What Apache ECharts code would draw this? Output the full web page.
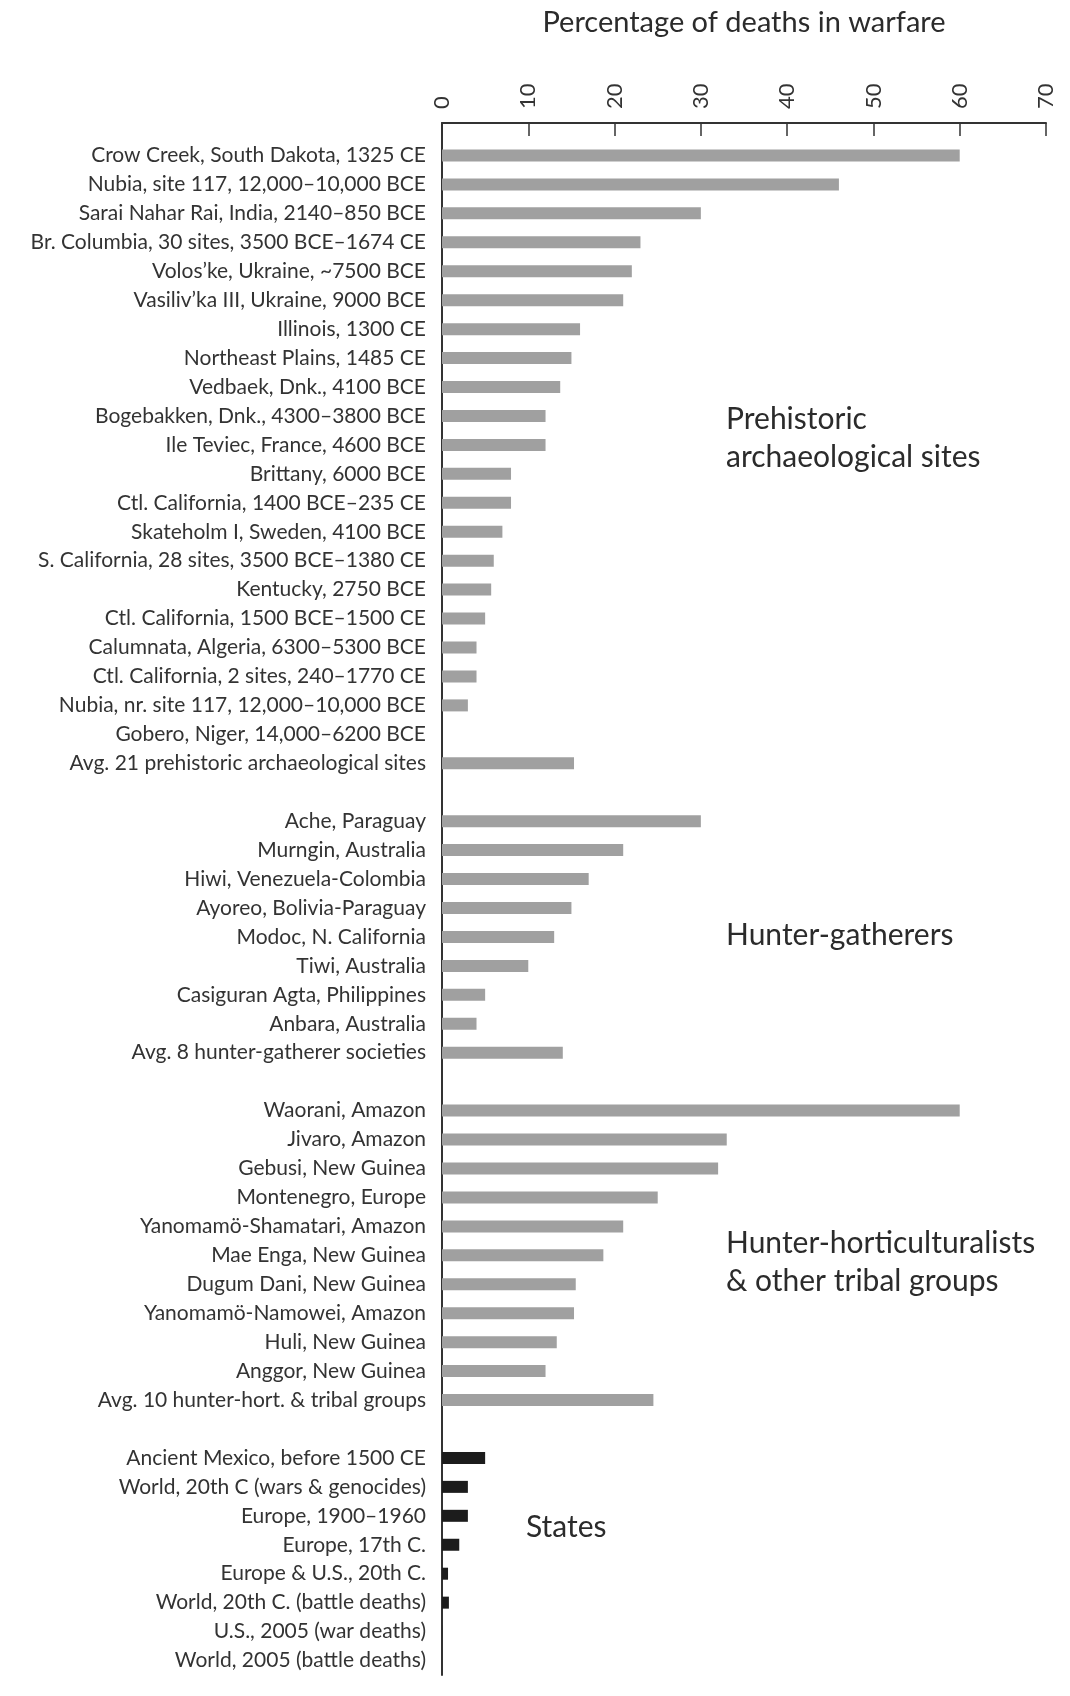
<!DOCTYPE html>
<html>
<head>
<meta charset="utf-8">
<title>Percentage of deaths in warfare</title>
<script src="https://cdn.jsdelivr.net/npm/echarts@6/dist/echarts.min.js"></script>
<style>
  html, body { margin: 0; padding: 0; background: #fff; }
  #main { width: 1070px; height: 1696px; }
</style>
</head>
<body>
<div id="main"></div>
<script>
// row labels, top to bottom ('' = gap between groups)
var prehistoric = [
  'Crow Creek, South Dakota, 1325 CE',
  'Nubia, site 117, 12,000–10,000 BCE',
  'Sarai Nahar Rai, India, 2140–850 BCE',
  'Br. Columbia, 30 sites, 3500 BCE–1674 CE',
  'Volos\u2019ke, Ukraine, ~7500 BCE',
  'Vasiliv\u2019ka III, Ukraine, 9000 BCE',
  'Illinois, 1300 CE',
  'Northeast Plains, 1485 CE',
  'Vedbaek, Dnk., 4100 BCE',
  'Bogebakken, Dnk., 4300–3800 BCE',
  'Ile Teviec, France, 4600 BCE',
  'Brittany, 6000 BCE',
  'Ctl. California, 1400 BCE–235 CE',
  'Skateholm I, Sweden, 4100 BCE',
  'S. California, 28 sites, 3500 BCE–1380 CE',
  'Kentucky, 2750 BCE',
  'Ctl. California, 1500 BCE–1500 CE',
  'Calumnata, Algeria, 6300–5300 BCE',
  'Ctl. California, 2 sites, 240–1770 CE',
  'Nubia, nr. site 117, 12,000–10,000 BCE',
  'Gobero, Niger, 14,000–6200 BCE',
  'Avg. 21 prehistoric archaeological sites'
];
var prehistoricVals = [60, 46, 30, 23, 22, 21, 16, 15, 13.7, 12, 12, 8, 8, 7, 6, 5.7, 5, 4, 4, 3, 0, 15.3];

var hunters = [
  'Ache, Paraguay',
  'Murngin, Australia',
  'Hiwi, Venezuela-Colombia',
  'Ayoreo, Bolivia-Paraguay',
  'Modoc, N. California',
  'Tiwi, Australia',
  'Casiguran Agta, Philippines',
  'Anbara, Australia',
  'Avg. 8 hunter-gatherer societies'
];
var huntersVals = [30, 21, 17, 15, 13, 10, 5, 4, 14];

var tribal = [
  'Waorani, Amazon',
  'Jivaro, Amazon',
  'Gebusi, New Guinea',
  'Montenegro, Europe',
  'Yanomamö-Shamatari, Amazon',
  'Mae Enga, New Guinea',
  'Dugum Dani, New Guinea',
  'Yanomamö-Namowei, Amazon',
  'Huli, New Guinea',
  'Anggor, New Guinea',
  'Avg. 10 hunter-hort. & tribal groups'
];
var tribalVals = [60, 33, 32, 25, 21, 18.7, 15.5, 15.3, 13.3, 12, 24.5];

var states = [
  'Ancient Mexico, before 1500 CE',
  'World, 20th C (wars & genocides)',
  'Europe, 1900–1960',
  'Europe, 17th C.',
  'Europe & U.S., 20th C.',
  'World, 20th C. (battle deaths)',
  'U.S., 2005 (war deaths)',
  'World, 2005 (battle deaths)'
];
var statesVals = [5, 3, 3, 2, 0.7, 0.8, 0.008, 0.0003];

var FONT = 'Lato';
var GRAY = '#a0a0a0';
var DARK = '#1c1c1c';
var INK = '#333';

var categories = [];
var values = [];
function addGroup(names, vals, color, gap) {
  for (var i = 0; i < names.length; i++) {
    categories.push(names[i]);
    values.push({ value: vals[i], itemStyle: { color: color } });
  }
  if (gap) { categories.push(''); values.push('-'); }
}
addGroup(prehistoric, prehistoricVals, GRAY, true);
addGroup(hunters, huntersVals, GRAY, true);
addGroup(tribal, tribalVals, GRAY, true);
addGroup(states, statesVals, DARK, false);

var myChart = echarts.init(document.getElementById('main'));

var option = {
  backgroundColor: '#fff',
  animation: false,
  textStyle: { fontFamily: FONT },
  grid: [
    // bars
    { left: 442, right: 24, top: 141, bottom: 21 },
    // axis frame (top axis + vertical line)
    { left: 442, right: 24, top: 123, bottom: 21 }
  ],
  xAxis: [
    {
      gridIndex: 0, type: 'value', min: 0, max: 70, interval: 10,
      show: false
    },
    {
      gridIndex: 1, type: 'value', min: 0, max: 70, interval: 10,
      position: 'top',
      name: 'Percentage of deaths in warfare',
      nameLocation: 'middle',
      nameGap: 86,
      nameTextStyle: { fontSize: 29, color: '#2b2b2b', fontFamily: FONT },
      axisLine: { show: true, onZero: false, lineStyle: { color: INK, width: 2 } },
      axisTick: { show: true, inside: true, length: 13, lineStyle: { color: INK, width: 1.5 } },
      axisLabel: { rotate: -90, margin: 14, fontSize: 22, color: INK, fontFamily: FONT },
      splitLine: { show: false }
    }
  ],
  yAxis: [
    {
      gridIndex: 0, type: 'category', inverse: true,
      data: categories,
      axisLine: { show: false },
      axisTick: { show: false },
      axisLabel: { interval: 0, margin: 16, fontSize: 21, color: INK, fontFamily: FONT }
    },
    {
      gridIndex: 1, type: 'value', min: 0, max: 1,
      axisLine: { show: true, onZero: false, lineStyle: { color: INK, width: 2 } },
      axisTick: { show: false },
      axisLabel: { show: false },
      splitLine: { show: false }
    }
  ],
  series: [{
    type: 'bar',
    xAxisIndex: 0,
    yAxisIndex: 0,
    barWidth: 12,
    data: values
  }],
  graphic: [
    { type: 'text', left: 726, top: 400, style: { text: 'Prehistoric\narchaeological sites', font: '30px ' + FONT, fill: '#2b2b2b', lineHeight: 38 } },
    { type: 'text', left: 726, top: 916, style: { text: 'Hunter-gatherers', font: '30px ' + FONT, fill: '#2b2b2b', lineHeight: 38 } },
    { type: 'text', left: 726, top: 1224, style: { text: 'Hunter-horticulturalists\n& other tribal groups', font: '30px ' + FONT, fill: '#2b2b2b', lineHeight: 38 } },
    { type: 'text', left: 526, top: 1508, style: { text: 'States', font: '30px ' + FONT, fill: '#2b2b2b', lineHeight: 38 } }
  ]
};

myChart.setOption(option);
</script>
</body>
</html>
